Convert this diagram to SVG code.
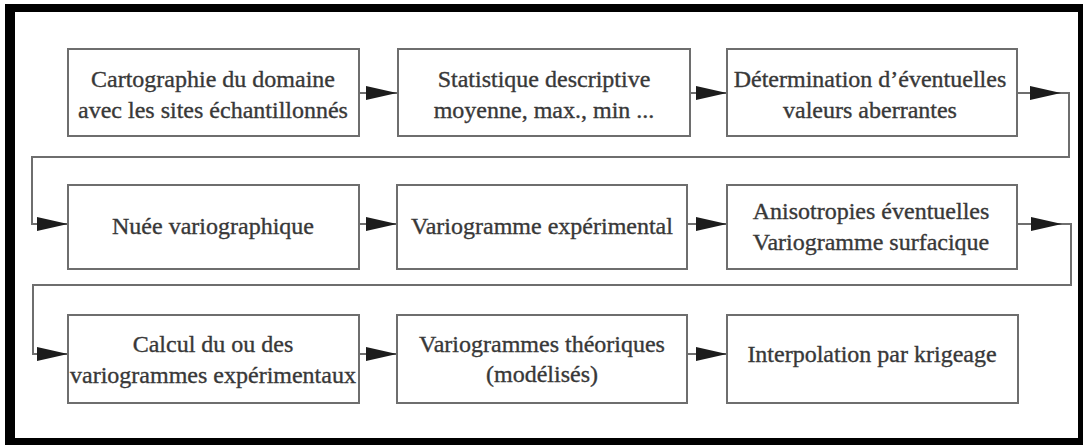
<svg xmlns="http://www.w3.org/2000/svg" width="1083" height="445" viewBox="0 0 1083 445">
<defs>
<style>
.box{fill:#fff;stroke:#6e6e6e;stroke-width:2}
.t{font-family:"Liberation Serif","Times New Roman",serif;font-size:24px;fill:#383838;stroke:#383838;stroke-width:0.35;text-anchor:middle}
.c{fill:none;stroke:#6e6e6e;stroke-width:2}
.frame{fill:#000}
</style>
<marker id="ah" markerUnits="userSpaceOnUse" markerWidth="32" markerHeight="16" refX="31" refY="7" orient="auto">
<path d="M0,0 L31,7 L0,14 z" fill="#1c1c1c"/>
</marker>
</defs>
<rect width="1083" height="445" fill="#fff"/>
<g id="frame">
<rect class="frame" x="5" y="4" width="1078" height="8"/>
<rect class="frame" x="5" y="4" width="10" height="441"/>
<rect class="frame" x="1078" y="4" width="5" height="441"/>
<rect class="frame" x="5" y="438" width="1078" height="7"/>
</g>
<g id="connectors">
<path class="c" d="M359,93 H397" marker-end="url(#ah)"/>
<path class="c" d="M690,93 H727" marker-end="url(#ah)"/>
<path class="c" d="M1017,93 H1061" marker-end="url(#ah)"/>
<path class="c" d="M1061,93 H1069 V157 H32 V224 H68" marker-end="url(#ah)"/>
<path class="c" d="M359,224 H397" marker-end="url(#ah)"/>
<path class="c" d="M687,224 H727" marker-end="url(#ah)"/>
<path class="c" d="M1017,224 H1062" marker-end="url(#ah)"/>
<path class="c" d="M1062,224 H1071 V285 H33 V354 H68" marker-end="url(#ah)"/>
<path class="c" d="M359,354 H397" marker-end="url(#ah)"/>
<path class="c" d="M687,354 H727" marker-end="url(#ah)"/>
</g>
<g id="n1"><rect class="box" x="68" y="49" width="291" height="87"/>
<text class="t" x="213" y="87">Cartographie du domaine</text>
<text class="t" x="213" y="118">avec les sites échantillonnés</text></g>
<g id="n2"><rect class="box" x="398" y="49" width="292" height="87"/>
<text class="t" x="544" y="87">Statistique descriptive</text>
<text class="t" x="544" y="118">moyenne, max., min ...</text></g>
<g id="n3"><rect class="box" x="727" y="49" width="290" height="87"/>
<text class="t" x="870" y="87">Détermination d’éventuelles</text>
<text class="t" x="870" y="118">valeurs aberrantes</text></g>
<g id="n4"><rect class="box" x="68" y="185" width="291" height="84"/>
<text class="t" x="213" y="234">Nuée variographique</text></g>
<g id="n5"><rect class="box" x="397" y="185" width="290" height="84"/>
<text class="t" x="542" y="234">Variogramme expérimental</text></g>
<g id="n6"><rect class="box" x="727" y="185" width="290" height="84"/>
<text class="t" x="871" y="219">Anisotropies éventuelles</text>
<text class="t" x="871" y="250">Variogramme surfacique</text></g>
<g id="n7"><rect class="box" x="68" y="315" width="291" height="88"/>
<text class="t" x="213" y="352">Calcul du ou des</text>
<text class="t" x="213" y="383">variogrammes expérimentaux</text></g>
<g id="n8"><rect class="box" x="397" y="315" width="290" height="88"/>
<text class="t" x="542" y="352">Variogrammes théoriques</text>
<text class="t" x="542" y="382">(modélisés)</text></g>
<g id="n9"><rect class="box" x="727" y="315" width="291" height="88"/>
<text class="t" x="872" y="362">Interpolation par krigeage</text></g>
</svg>
